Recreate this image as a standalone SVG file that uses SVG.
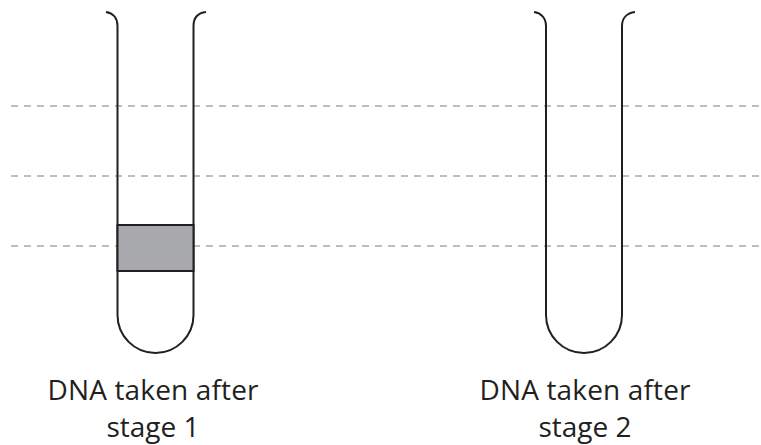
<svg xmlns="http://www.w3.org/2000/svg" width="761" height="445" viewBox="0 0 761 445">
<style>
.guide{stroke:#a7a9ac;stroke-width:1.5;stroke-dasharray:7 6;fill:none}
.tube{fill:none;stroke:#231f20;stroke-width:2}
.band{fill:#a7a9ac;stroke:#231f20;stroke-width:2}
.label{font-family:"Open Sans","Noto Sans",sans-serif;font-size:28px;fill:#231f20;text-anchor:middle}
</style>
<rect width="761" height="445" fill="#ffffff"/>
<g id="guides">
<line class="guide" x1="11" y1="106" x2="761" y2="106"/>
<line class="guide" x1="11" y1="176" x2="761" y2="176"/>
<line class="guide" x1="11" y1="246" x2="761" y2="246"/>
</g>
<g id="tube1">
<path class="tube" d="M106,12 C113,13 117.5,18 117.5,26 V315 A38,38 0 0 0 193.5,315 V26 C193.5,18 198,13 206,12"/>
<rect class="band" x="117.5" y="225" width="76" height="46"/>
<text class="label" x="153" y="400" textLength="211" lengthAdjust="spacing">DNA taken after</text>
<text class="label" x="153" y="437">stage 1</text>
</g>
<g id="tube2">
<path class="tube" d="M534,12 C541,13 546,18 546,26 V315 A38,38 0 0 0 622,315 V26 C622,18 627,13 635,12"/>
<text class="label" x="585" y="400" textLength="211" lengthAdjust="spacing">DNA taken after</text>
<text class="label" x="585" y="437">stage 2</text>
</g>
</svg>
